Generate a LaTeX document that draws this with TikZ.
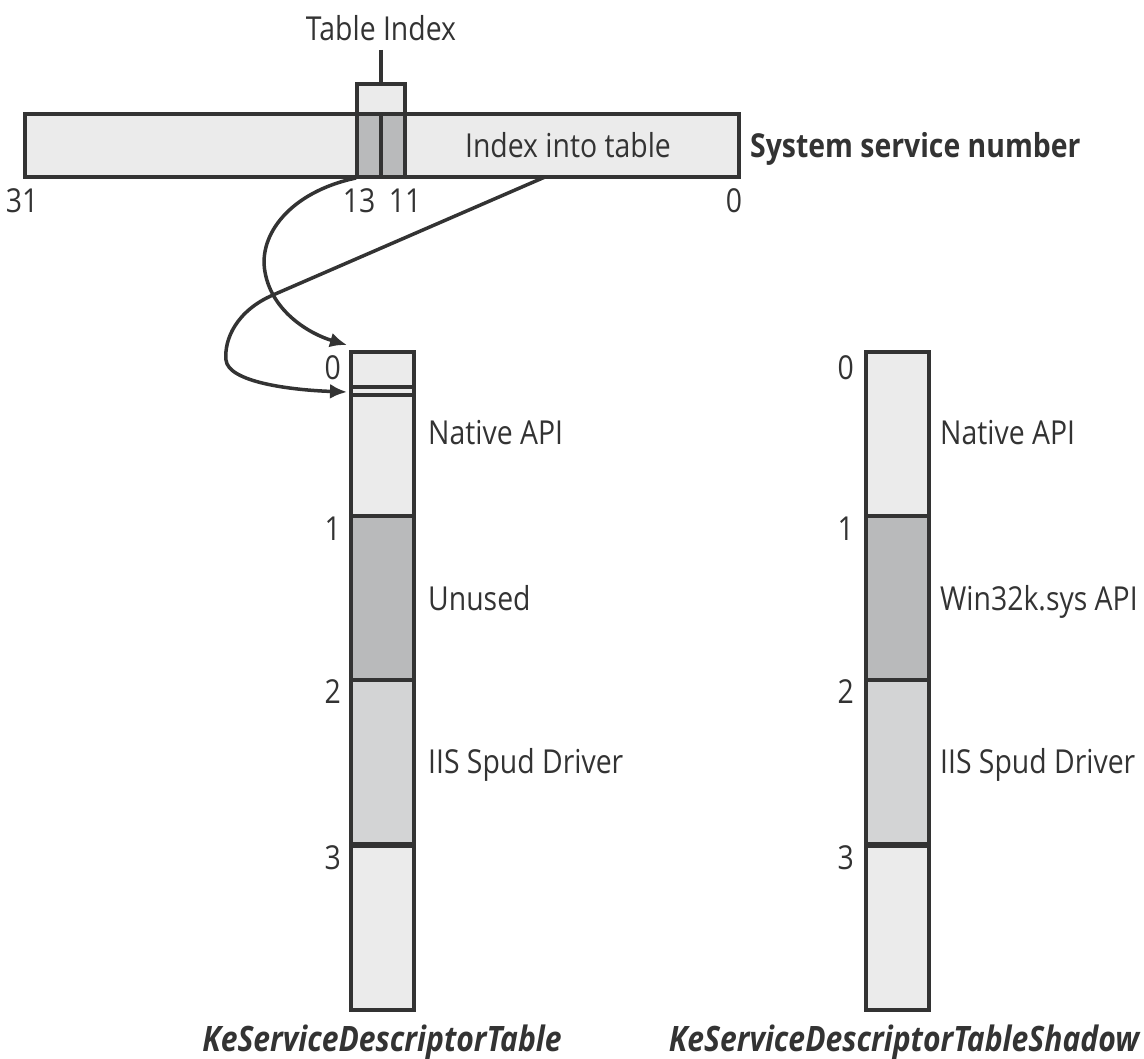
\documentclass[tikz,border=0pt]{standalone}
\usepackage{fontspec}
\setmainfont{Open Sans}[FakeStretch=0.86]
\usetikzlibrary{arrows.meta}
\definecolor{ln}{HTML}{333333}
\definecolor{fa}{HTML}{EBEBEB}
\definecolor{fb}{HTML}{B9BABB}
\definecolor{fc}{HTML}{D3D4D5}
\begin{document}
\begin{tikzpicture}[x=1pt,y=-1pt,
  font=\fontsize{33}{36}\selectfont,
  outl/.style={draw=ln, line width=4pt},
  sep/.style={draw=ln, line width=4pt},
  lbl/.style={anchor=base west, inner sep=0pt, text=ln},
  num/.style={anchor=base east, inner sep=0pt, text=ln},
  cnum/.style={anchor=base, inner sep=0pt, text=ln},
  conn/.style={draw=ln, line width=3.5pt, -{Latex[length=17pt,width=15pt]}},
  captext/.style={anchor=base, inner sep=0pt, text=ln, font=\fontsize{35}{38}\selectfont\bfseries\itshape}]
\useasboundingbox (0,0) rectangle (1144,1059);

% ---- system service number bar ----
\path[outl, fill=fa] (25,114) rectangle (739,177);
\path[outl, fill=fa] (357,84) rectangle (405,114);
\path[outl, fill=fb] (357,114) rectangle (381,177);
\path[outl, fill=fb] (381,114) rectangle (405,177);
\coordinate (tiTop) at (381,84);
\coordinate (tiLine) at (381,50);
\draw[ln, line width=3.5pt] (tiLine) -- (tiTop);
\node[cnum] (ti) at (381,41) {Table Index};
\node[cnum] (iit) at (568,158) {Index into table};
\node[lbl, font=\fontsize{33}{36}\selectfont\bfseries] (ssn) at (750,158) {System service number};
\node[cnum] (b31) at (22,213) {31};
\node[cnum] (b13) at (359,213) {13};
\node[cnum] (b11) at (405,213) {11};
\node[cnum] (b0) at (734,213) {0};

% ---- left table ----
\path[fill=fa] (351,352) rectangle (414,516);
\path[fill=fb] (351,516) rectangle (414,680);
\path[fill=fc] (351,680) rectangle (414,845);
\path[fill=fa] (351,845) rectangle (414,1010);
\draw[sep] (351,387) -- (414,387);
\draw[sep] (351,395.5) -- (414,395.5);
\draw[sep] (351,516) -- (414,516);
\draw[sep] (351,680) -- (414,680);
\draw[draw=ln, line width=6pt] (351,845) -- (414,845);
\path[outl] (351,352) rectangle (414,1010);

\node[num] (l0) at (341,380) {0};
\node[num] (l1) at (341,540) {1};
\node[num] (l2) at (341,703) {2};
\node[num] (l3) at (341,869) {3};
\node[lbl] (lt1) at (428,444) {Native API};
\node[lbl] (lt2) at (428,610) {Unused};
\node[lbl] (lt3) at (428,773) {IIS Spud Driver};
\node[captext] (lcap) at (382,1051) {KeServiceDescriptorTable};

% ---- right table ----
\path[fill=fa] (866,352) rectangle (929,516);
\path[fill=fb] (866,516) rectangle (929,680);
\path[fill=fc] (866,680) rectangle (929,845);
\path[fill=fa] (866,845) rectangle (929,1010);
\draw[sep] (866,516) -- (929,516);
\draw[sep] (866,680) -- (929,680);
\draw[draw=ln, line width=6pt] (866,845) -- (929,845);
\path[outl] (866,352) rectangle (929,1010);

\node[num] (r0) at (854,380) {0};
\node[num] (r1) at (854,540) {1};
\node[num] (r2) at (854,703) {2};
\node[num] (r3) at (854,869) {3};
\node[lbl] (rt1) at (940,444) {Native API};
\node[lbl] (rt2) at (940,610) {Win32k.sys API};
\node[lbl] (rt3) at (940,773) {IIS Spud Driver};
\node[captext] (rcap) at (904,1051) {KeServiceDescriptorTableShadow};

% ---- connectors ----
\coordinate (s1) at (356,178);
\coordinate (s2) at (545,177);
\coordinate (x) at (273,295);
\coordinate (e1) at (347,345);
\coordinate (e2) at (347,392);
\draw[conn] (s1) .. controls (290,192) and (258,235) .. (265,272)
   .. controls (272,312) and (310,334) .. (e1);
\draw[conn] (s2) -- (x) .. controls (236,311) and (224,340) .. (226,360)
   .. controls (228,382) and (290,390) .. (e2);
\end{tikzpicture}
\end{document}
